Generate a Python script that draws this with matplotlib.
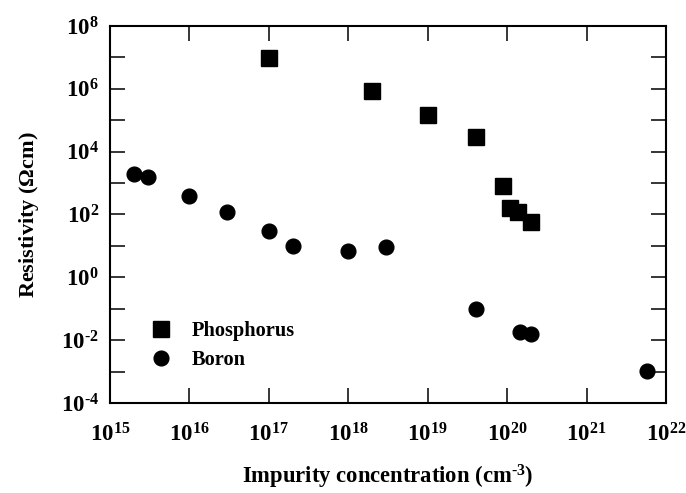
"""Resistivity vs impurity concentration, log-log scatter."""
import matplotlib
matplotlib.use("Agg")
import matplotlib.pyplot as plt
import matplotlib.ticker as mticker

plt.rcParams["font.family"] = ["Liberation Serif", "DejaVu Serif"]
plt.rcParams["font.weight"] = "bold"
plt.rcParams["mathtext.fontset"] = "custom"
plt.rcParams["mathtext.rm"] = "Liberation Serif:bold"
plt.rcParams["mathtext.bf"] = "Liberation Serif:bold"
plt.rcParams["mathtext.it"] = "Liberation Serif:bold"
plt.rcParams["mathtext.default"] = "bf"

# Phosphorus (squares)
p_conc = [1e17, 2e18, 1e19, 4e19, 8.9e19, 1.09e20, 1.37e20, 2e20]
p_res = [9.6e6, 8.5e5, 1.5e5, 3e4, 8.3e2, 1.6e2, 1.2e2, 5.8e1]

# Boron (circles)
b_conc = [2e15, 3e15, 1e16, 3e16, 1e17, 2e17, 1e18, 3e18, 4e19, 1.45e20, 2e20, 5.8e21]
b_res = [1.95e3, 1.53e3, 4e2, 1.2e2, 30, 10, 7, 9, 0.1, 0.018, 0.0155, 1.05e-3]

x_exps = list(range(15, 23))
y_exps = list(range(-4, 9))


def pow_label(e):
    # hyphen instead of the long math minus, as in the original figure
    s = r"\text{-}%d" % -e if e < 0 else "%d" % e
    return r"$10^{%s}$" % s


fig = plt.figure(figsize=(6.86, 4.93), dpi=100)
ax = fig.add_axes([0.1603, 0.1826, 0.8105, 0.7647])

ax.plot(p_conc, p_res, "s", color="black", markersize=11.3, label="Phosphorus")
ax.plot(b_conc, b_res, "o", color="black", markersize=10.6, label="Boron")

ax.set_xscale("log")
ax.set_yscale("log")
ax.set_xlim(1e15, 1e22)
ax.set_ylim(1e-4, 1e8)

ax.set_xticks([10.0 ** e for e in x_exps])
ax.set_xticklabels([pow_label(e) for e in x_exps])
ax.set_yticks([10.0 ** e for e in y_exps])
ax.set_yticklabels([pow_label(e) if e % 2 == 0 else "" for e in y_exps])
ax.xaxis.set_minor_locator(mticker.NullLocator())
ax.yaxis.set_minor_locator(mticker.NullLocator())

ax.tick_params(which="major", direction="in", length=11, width=1.1,
               top=True, right=True, labelsize=16.5)
ax.tick_params(axis="x", pad=14.5)
ax.tick_params(axis="y", pad=8)
for sp in ax.spines.values():
    sp.set_linewidth(1.5)

ax.set_xlabel(r"Impurity concentration (cm$^{\text{-}3}$)", fontsize=16.3,
              fontweight="bold", labelpad=12)
ax.set_ylabel(r"Resistivity ($\Omega$cm)", fontsize=16, fontweight="bold",
              labelpad=14)

ax.legend(loc="upper left", bbox_to_anchor=(0.055, 0.245), frameon=False,
          fontsize=14.7, handlelength=1.0, handletextpad=1.0,
          labelspacing=0.45, borderpad=0)

fig.savefig("out.png", dpi=100)
plt.close(fig)
